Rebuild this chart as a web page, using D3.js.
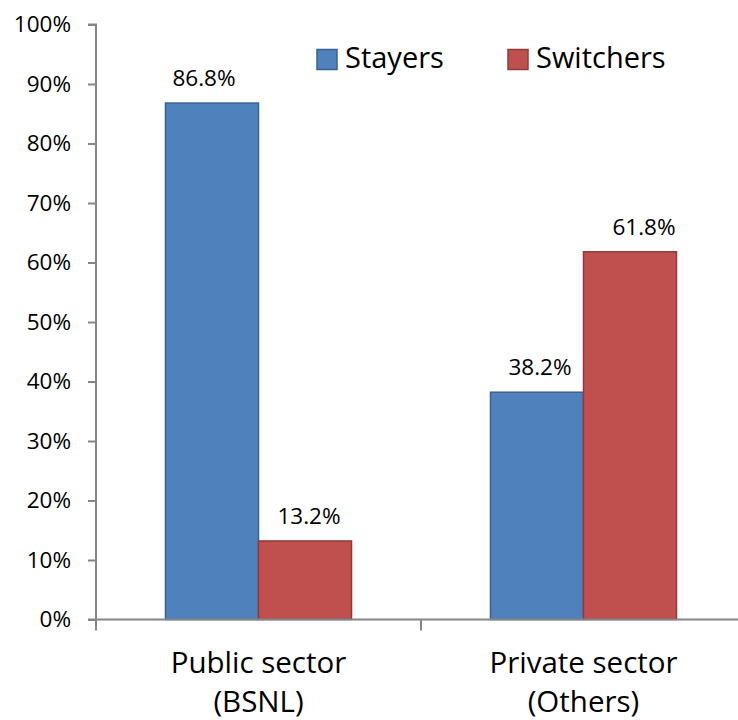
<!DOCTYPE html>
<html>
<head>
<meta charset="utf-8">
<script src="https://cdn.jsdelivr.net/npm/d3@7"></script>
<style>
  html, body { margin: 0; padding: 0; background: #fff; }
  svg text { font-family: "Open Sans", sans-serif; fill: #000; }
</style>
</head>
<body>
<svg id="chart" width="738" height="720"></svg>
<script>
// Share of respondents by sector and switching behaviour
const categories = ["Public sector|(BSNL)", "Private sector|(Others)"];
const seriesNames = ["Stayers", "Switchers"];
const stayers = [0.868, 0.382];
const switchers = [0.132, 0.618];
const yTicks = [0, 0.1, 0.2, 0.3, 0.4, 0.5, 0.6, 0.7, 0.8, 0.9, 1.0];

const fills = { Stayers: "#4F81BD", Switchers: "#C0504D" };
const strokes = { Stayers: "#3A6290", Switchers: "#8E3B39" };
// horizontal nudges for the value labels, per category then series
const labelNudge = [[-8, 4], [3, 14]];

const svg = d3.select("#chart");
const x0 = 96, x1 = 746, yTop = 24.5, yBottom = 619.5;

const x = d3.scaleBand().domain(categories).range([x0, x1]).paddingInner(0).paddingOuter(0);
const xs = d3.scaleBand().domain(seriesNames).range([0, x.bandwidth()]).paddingInner(0).paddingOuter(0.747);
const y = d3.scaleLinear().domain([0, 1]).range([yBottom, yTop]);

const rows = categories.map((c, i) => ({ cat: c, ci: i, values: [
  { name: "Stayers", v: stayers[i], ci: i, si: 0 },
  { name: "Switchers", v: switchers[i], ci: i, si: 1 }
]}));

// y axis
const yAxis = d3.axisLeft(y).tickValues(yTicks).tickFormat(d3.format(".0%")).tickSize(8).tickPadding(17);
const gy = svg.append("g").attr("transform", `translate(${x0},0)`).call(yAxis);
gy.select(".domain").attr("stroke", "#868686").attr("stroke-width", 2).attr("d", `M-8,${yTop}H0V${yBottom}`);
gy.selectAll(".tick line").attr("stroke", "#868686").attr("stroke-width", 2);
gy.selectAll(".tick text").attr("font-size", 22.5).style("font-family", "'Open Sans', sans-serif").attr("fill", "#000");

// bars
const groups = svg.append("g").selectAll("g").data(rows).join("g")
  .attr("transform", d => `translate(${x(d.cat)},0)`);
groups.selectAll("rect").data(d => d.values).join("rect")
  .attr("x", d => xs(d.name))
  .attr("width", xs.bandwidth())
  .attr("y", d => y(d.v))
  .attr("height", d => y(0) - y(d.v))
  .attr("fill", d => fills[d.name])
  .attr("stroke", d => strokes[d.name])
  .attr("stroke-width", 1.5);
groups.selectAll("text.val").data(d => d.values).join("text")
  .attr("class", "val")
  .attr("x", d => xs(d.name) + xs.bandwidth() / 2 + labelNudge[d.ci][d.si])
  .attr("y", d => y(d.v) - 17)
  .attr("text-anchor", "middle")
  .attr("font-size", 22.5)
  .text(d => d3.format(".1%")(d.v));

// x axis
const xAxis = d3.axisBottom(x).tickSize(0).tickFormat("");
const gx = svg.append("g").attr("transform", `translate(0,${yBottom})`).call(xAxis);
gx.select(".domain").attr("stroke", "#868686").attr("stroke-width", 2).attr("d", `M${x0 - 8},0H${x1}`);
gx.selectAll(".tick").remove();
const bounds = [x0, x0 + x.bandwidth(), x1];
gx.selectAll("line.sep").data(bounds).join("line")
  .attr("class", "sep")
  .attr("x1", d => d).attr("x2", d => d)
  .attr("y1", 0).attr("y2", 11)
  .attr("stroke", "#868686").attr("stroke-width", 2);

// category labels (two lines)
const catLabels = svg.append("g").selectAll("text").data(categories).join("text")
  .attr("text-anchor", "middle")
  .attr("font-size", 29.5)
  .attr("x", d => x(d) + x.bandwidth() / 2)
  .attr("y", 673);
catLabels.selectAll("tspan").data(d => d.split("|")).join("tspan")
  .attr("x", function() { return d3.select(this.parentNode).attr("x"); })
  .attr("dy", (d, i) => i === 0 ? 0 : 39)
  .text(d => d);

// legend
const legendX = [317, 508];
const legend = svg.append("g").selectAll("g").data(seriesNames).join("g")
  .attr("transform", (d, i) => `translate(${legendX[i]},49.5)`);
legend.append("rect")
  .attr("width", 20).attr("height", 20)
  .attr("fill", d => fills[d])
  .attr("stroke", d => strokes[d]).attr("stroke-width", 1.5);
legend.append("text")
  .attr("x", 28).attr("y", 18.5)
  .attr("font-size", 29)
  .text(d => d);
</script>
</body>
</html>
